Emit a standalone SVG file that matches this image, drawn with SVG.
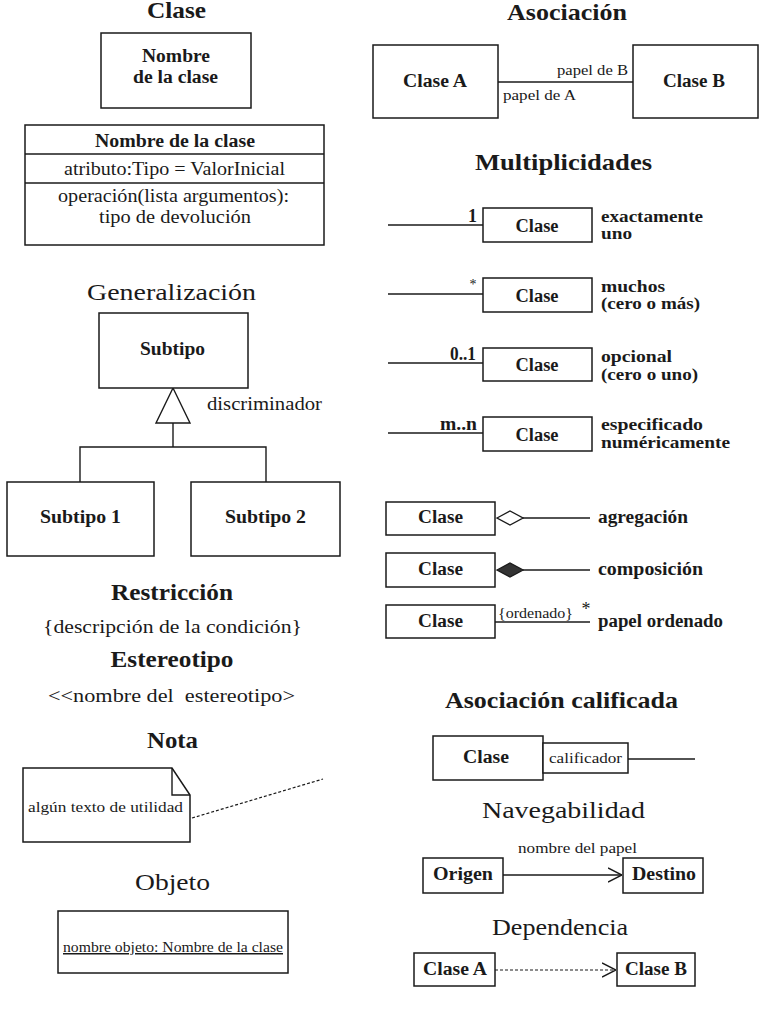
<svg xmlns="http://www.w3.org/2000/svg" width="768" height="1024" viewBox="0 0 768 1024">
<style>
text{font-family:"Liberation Serif","DejaVu Serif","Times New Roman",serif;fill:#1a1a1a}
.t{font-size:23px;font-weight:bold;text-anchor:middle}
.tn{font-size:24px;text-anchor:middle}
.b{font-size:18px;font-weight:bold}
.d{font-size:16px;font-weight:bold}
.r{font-size:18px}
.s{font-size:15px}
.xs{font-size:14px}
.m{text-anchor:middle}
.box{fill:#fff;stroke:#1a1a1a;stroke-width:1.5}
.ln{fill:none;stroke:#1a1a1a;stroke-width:1.4}
.dash{fill:none;stroke:#1a1a1a;stroke-width:1.2;stroke-dasharray:3 2}
</style>
<defs>
<marker id="open-arrow" viewBox="0 0 14 16" refX="14" refY="8" markerWidth="14" markerHeight="16" markerUnits="userSpaceOnUse" orient="auto">
<path d="M0,1 L14,8 L0,15" fill="none" stroke="#1a1a1a" stroke-width="1.4"/>
</marker>
<marker id="diamond-open" viewBox="-1 -1 28 16" refX="26" refY="7" markerWidth="28" markerHeight="16" markerUnits="userSpaceOnUse" orient="auto">
<path d="M0,7 L13,0 L26,7 L13,14 Z" fill="#fff" stroke="#1a1a1a" stroke-width="1.3"/>
</marker>
<marker id="diamond-filled" viewBox="-1 -1 28 16" refX="26" refY="7" markerWidth="28" markerHeight="16" markerUnits="userSpaceOnUse" orient="auto">
<path d="M0,7 L13,0 L26,7 L13,14 Z" fill="#333" stroke="#1a1a1a" stroke-width="1.3"/>
</marker>
</defs>
<rect width="768" height="1024" fill="#fff"/>

<g id="titles">
<text class="t" x="176.5" y="18" textLength="59" lengthAdjust="spacingAndGlyphs">Clase</text>
<text class="t" x="567" y="20" textLength="120" lengthAdjust="spacingAndGlyphs">Asociación</text>
<text class="t" x="563.5" y="170" textLength="177" lengthAdjust="spacingAndGlyphs">Multiplicidades</text>
<text class="tn" x="171.5" y="300" textLength="169" lengthAdjust="spacingAndGlyphs">Generalización</text>
<text class="t" x="172" y="600" textLength="122" lengthAdjust="spacingAndGlyphs">Restricción</text>
<text class="r m" x="172.5" y="633" textLength="259" lengthAdjust="spacingAndGlyphs">{descripción de la condición}</text>
<text class="t" x="172" y="667" textLength="123" lengthAdjust="spacingAndGlyphs">Estereotipo</text>
<text class="r m" x="171.5" y="702" textLength="247" lengthAdjust="spacingAndGlyphs" xml:space="preserve">&lt;&lt;nombre del  estereotipo&gt;</text>
<text class="t" x="172.5" y="748" textLength="51" lengthAdjust="spacingAndGlyphs">Nota</text>
<text class="tn" x="172.5" y="890" textLength="75" lengthAdjust="spacingAndGlyphs">Objeto</text>
<text class="t" x="561.5" y="708" textLength="233" lengthAdjust="spacingAndGlyphs">Asociación calificada</text>
<text class="tn" x="563.5" y="818" textLength="163" lengthAdjust="spacingAndGlyphs">Navegabilidad</text>
<text class="tn" x="560" y="935" textLength="136" lengthAdjust="spacingAndGlyphs">Dependencia</text>
</g>

<g id="connectors">
<line class="ln" x1="498" y1="82" x2="633" y2="82"/>
<line class="ln" x1="388" y1="225" x2="483" y2="225"/>
<line class="ln" x1="388" y1="294" x2="483" y2="294"/>
<line class="ln" x1="388" y1="363" x2="483" y2="363"/>
<line class="ln" x1="388" y1="433" x2="483" y2="433"/>
<polygon class="ln" points="173,388 156,423 190,423"/>
<polyline class="ln" points="173,423 173,447"/>
<polyline class="ln" points="80,482 80,447 266,447 266,482"/>
<line class="dash" x1="192" y1="818" x2="323" y2="779"/>
<line class="ln" x1="523" y1="518" x2="590" y2="518" marker-start="url(#diamond-open)"/>
<line class="ln" x1="523" y1="570" x2="590" y2="570" marker-start="url(#diamond-filled)"/>
<line class="ln" x1="495" y1="622" x2="590" y2="622"/>
<line class="ln" x1="628" y1="759" x2="695" y2="759"/>
<line class="ln" x1="503" y1="875" x2="622" y2="875" marker-end="url(#open-arrow)"/>
<line class="dash" x1="495" y1="970" x2="615" y2="970"/>
<line class="ln" x1="600" y1="970" x2="616" y2="970" stroke-opacity="0" marker-end="url(#open-arrow)"/>
</g>

<g id="connector-labels">
<text class="s" x="628" y="75" text-anchor="end" textLength="71" lengthAdjust="spacingAndGlyphs">papel de B</text>
<text class="s" x="503" y="100" textLength="73" lengthAdjust="spacingAndGlyphs">papel de A</text>
<text class="b" x="477" y="222" text-anchor="end">1</text>
<text class="xs" x="473" y="289" text-anchor="middle">*</text>
<text class="b" x="476" y="360" text-anchor="end" textLength="26" lengthAdjust="spacingAndGlyphs">0..1</text>
<text class="b" x="477" y="430" text-anchor="end" textLength="37" lengthAdjust="spacingAndGlyphs">m..n</text>
<text class="r" x="207" y="410" textLength="115" lengthAdjust="spacingAndGlyphs">discriminador</text>
<text class="xs" x="498" y="618" textLength="75" lengthAdjust="spacingAndGlyphs">{ordenado}</text>
<text class="r" x="586" y="615" text-anchor="middle">*</text>
<text class="s m" x="577.5" y="853" textLength="119" lengthAdjust="spacingAndGlyphs">nombre del papel</text>
</g>

<g id="descriptions">
<text class="d" x="601" y="222" textLength="102" lengthAdjust="spacingAndGlyphs">exactamente</text>
<text class="d" x="601" y="239" textLength="31" lengthAdjust="spacingAndGlyphs">uno</text>
<text class="d" x="601" y="292" textLength="64" lengthAdjust="spacingAndGlyphs">muchos</text>
<text class="d" x="601" y="309" textLength="99" lengthAdjust="spacingAndGlyphs">(cero o más)</text>
<text class="d" x="601" y="362" textLength="71" lengthAdjust="spacingAndGlyphs">opcional</text>
<text class="d" x="601" y="380" textLength="97" lengthAdjust="spacingAndGlyphs">(cero o uno)</text>
<text class="d" x="601" y="430" textLength="102" lengthAdjust="spacingAndGlyphs">especificado</text>
<text class="d" x="601" y="448" textLength="129" lengthAdjust="spacingAndGlyphs">numéricamente</text>
<text class="b" x="598" y="523" textLength="90" lengthAdjust="spacingAndGlyphs">agregación</text>
<text class="b" x="598" y="575" textLength="105" lengthAdjust="spacingAndGlyphs">composición</text>
<text class="b" x="598" y="627" textLength="125" lengthAdjust="spacingAndGlyphs">papel ordenado</text>
</g>

<g id="clase-simple">
<rect class="box" x="101" y="33" width="150" height="75"/>
<text class="b m" x="176" y="62" textLength="68" lengthAdjust="spacingAndGlyphs">Nombre</text>
<text class="b m" x="175.5" y="83" textLength="85" lengthAdjust="spacingAndGlyphs">de la clase</text>
</g>

<g id="clase-completa">
<rect class="box" x="25" y="125" width="299" height="120"/>
<line class="ln" x1="25" y1="154" x2="324" y2="154"/>
<line class="ln" x1="25" y1="183" x2="324" y2="183"/>
<text class="b m" x="175" y="147" textLength="160" lengthAdjust="spacingAndGlyphs">Nombre de la clase</text>
<text class="r m" x="174.5" y="175" textLength="221" lengthAdjust="spacingAndGlyphs">atributo:Tipo = ValorInicial</text>
<text class="r m" x="173.5" y="202" textLength="231" lengthAdjust="spacingAndGlyphs">operación(lista argumentos):</text>
<text class="r m" x="175" y="223" textLength="152" lengthAdjust="spacingAndGlyphs">tipo de devolución</text>
</g>

<g id="asoc-clase-a">
<rect class="box" x="373" y="45" width="125" height="73"/>
<text class="b m" x="435" y="87" textLength="64" lengthAdjust="spacingAndGlyphs">Clase A</text>
</g>
<g id="asoc-clase-b">
<rect class="box" x="633" y="45" width="125" height="73"/>
<text class="b m" x="694" y="87" textLength="62" lengthAdjust="spacingAndGlyphs">Clase B</text>
</g>

<g id="mult-1">
<rect class="box" x="483" y="208" width="109" height="34"/>
<text class="b m" x="537" y="232" textLength="43" lengthAdjust="spacingAndGlyphs">Clase</text>
</g>
<g id="mult-2">
<rect class="box" x="483" y="278" width="109" height="34"/>
<text class="b m" x="537" y="302" textLength="43" lengthAdjust="spacingAndGlyphs">Clase</text>
</g>
<g id="mult-3">
<rect class="box" x="483" y="348" width="109" height="33"/>
<text class="b m" x="537" y="371" textLength="43" lengthAdjust="spacingAndGlyphs">Clase</text>
</g>
<g id="mult-4">
<rect class="box" x="483" y="417" width="109" height="34"/>
<text class="b m" x="537" y="441" textLength="43" lengthAdjust="spacingAndGlyphs">Clase</text>
</g>

<g id="gen-subtipo">
<rect class="box" x="99" y="313" width="149" height="75"/>
<text class="b m" x="172.5" y="355" textLength="65" lengthAdjust="spacingAndGlyphs">Subtipo</text>
</g>
<g id="gen-subtipo-1">
<rect class="box" x="7" y="482" width="147" height="74"/>
<text class="b m" x="80.5" y="523" textLength="81" lengthAdjust="spacingAndGlyphs">Subtipo 1</text>
</g>
<g id="gen-subtipo-2">
<rect class="box" x="191" y="482" width="149" height="74"/>
<text class="b m" x="265.5" y="523" textLength="81" lengthAdjust="spacingAndGlyphs">Subtipo 2</text>
</g>

<g id="nota">
<path class="box" d="M23,768 H172 L190,795 V842 H23 Z"/>
<path class="ln" d="M172,768 V795 H190"/>
<text class="s" x="28" y="812" textLength="155" lengthAdjust="spacingAndGlyphs">algún texto de utilidad</text>
</g>

<g id="objeto">
<rect class="box" x="58" y="911" width="230" height="62"/>
<text class="s m" x="173" y="952" text-decoration="underline" textLength="220" lengthAdjust="spacingAndGlyphs">nombre objeto: Nombre de la clase</text>
</g>

<g id="agregacion-clase">
<rect class="box" x="386" y="502" width="109" height="33"/>
<text class="b m" x="440.5" y="523" textLength="45" lengthAdjust="spacingAndGlyphs">Clase</text>
</g>
<g id="composicion-clase">
<rect class="box" x="386" y="553" width="109" height="34"/>
<text class="b m" x="440.5" y="575" textLength="45" lengthAdjust="spacingAndGlyphs">Clase</text>
</g>
<g id="ordenado-clase">
<rect class="box" x="386" y="605" width="109" height="33"/>
<text class="b m" x="440.5" y="627" textLength="45" lengthAdjust="spacingAndGlyphs">Clase</text>
</g>

<g id="calificada-clase">
<rect class="box" x="433" y="736" width="110" height="44"/>
<text class="b m" x="486" y="763" textLength="46" lengthAdjust="spacingAndGlyphs">Clase</text>
</g>
<g id="calificador">
<rect class="box" x="543" y="743" width="85" height="30"/>
<text class="xs m" x="585.5" y="763" textLength="73" lengthAdjust="spacingAndGlyphs">calificador</text>
</g>

<g id="origen">
<rect class="box" x="423" y="858" width="80" height="35"/>
<text class="b m" x="463" y="880" textLength="60" lengthAdjust="spacingAndGlyphs">Origen</text>
</g>
<g id="destino">
<rect class="box" x="623" y="858" width="80" height="35"/>
<text class="b m" x="664" y="880" textLength="64" lengthAdjust="spacingAndGlyphs">Destino</text>
</g>

<g id="dep-clase-a">
<rect class="box" x="414" y="953" width="81" height="33"/>
<text class="b m" x="455" y="975" textLength="64" lengthAdjust="spacingAndGlyphs">Clase A</text>
</g>
<g id="dep-clase-b">
<rect class="box" x="617" y="953" width="78" height="33"/>
<text class="b m" x="656" y="975" textLength="62" lengthAdjust="spacingAndGlyphs">Clase B</text>
</g>
</svg>
